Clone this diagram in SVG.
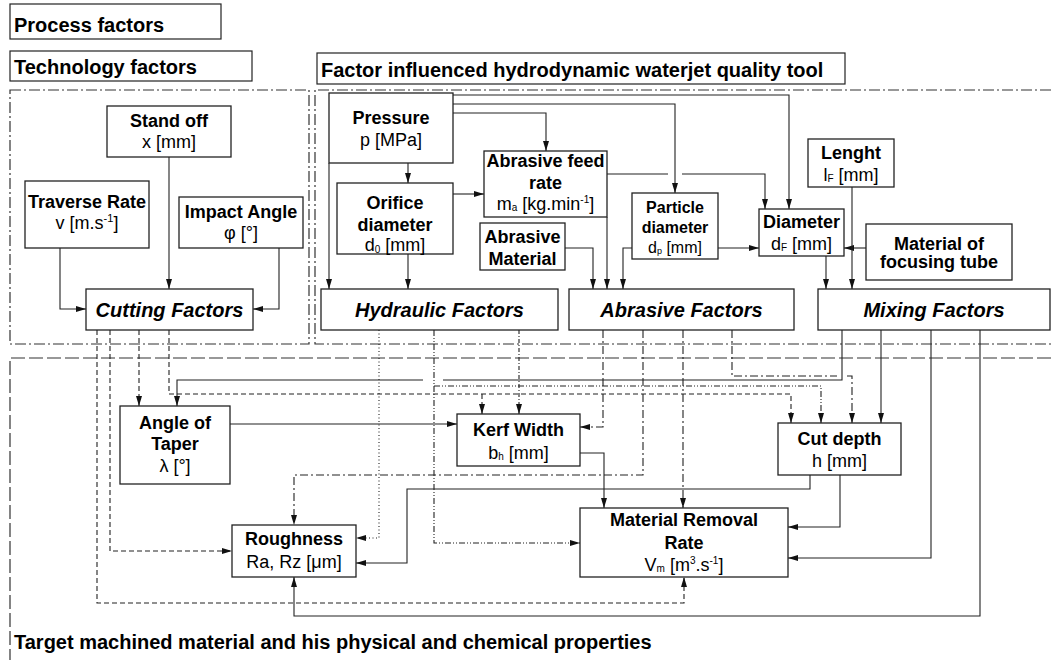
<svg xmlns="http://www.w3.org/2000/svg" width="1051" height="660" viewBox="0 0 1051 660">
<defs>
<style>
text{font-family:"Liberation Sans",Arial,Helvetica,sans-serif;fill:#000}
.t{font-size:18px;text-anchor:middle}
.s{font-size:16px;text-anchor:middle}
.bd{font-weight:bold}
.f{font-size:20px;font-weight:bold;font-style:italic;text-anchor:middle}
.ttl{font-size:20px;font-weight:bold}
.box{fill:#fff;stroke:#222;stroke-width:1.3}
.tbox{fill:#fff;stroke:#222;stroke-width:1.2}
.frame{fill:none;stroke:#333;stroke-width:1.2;stroke-dasharray:11,3,2,3}
.tgt{fill:none;stroke:#333;stroke-width:1.2;stroke-dasharray:14,4}
.c{fill:none;stroke:#222;stroke-width:1.1}
.da{stroke-dasharray:5,3}
.dot{stroke-dasharray:1,2.5}
.dd{stroke-dasharray:6,2,1,2,1,2}
.d2{stroke-dasharray:4,2,1,2}
.ad{stroke-dasharray:8,3,2,3}
</style>
<marker id="a" viewBox="0 0 10 6" refX="10" refY="3" markerWidth="10" markerHeight="6" markerUnits="userSpaceOnUse" orient="auto"><path d="M0,0 L10,3 L0,6 z" fill="#111" stroke="none"/></marker>
</defs>
<rect width="1051" height="660" fill="#fff"/>

<g id="frames">
<rect class="tbox" x="10" y="4" width="211" height="35"/>
<text class="ttl" x="14" y="31.5">Process factors</text>
<rect class="tbox" x="10" y="51" width="242" height="30"/>
<text class="ttl" x="14" y="73.5">Technology factors</text>
<rect class="tbox" x="317" y="53" width="528" height="31"/>
<text class="ttl" x="321" y="77">Factor influenced hydrodynamic waterjet quality tool</text>
<path class="frame" d="M10,90 H309 V344 H10 Z"/>
<path class="frame" d="M1051,90 H315 V344 H1051"/>
<path class="tgt" d="M1051,358 H10 V660"/>
<text class="ttl" x="14" y="649">Target machined material and his physical and chemical properties</text>
</g>

<g id="connectors">
<!-- technology -->
<path class="c" d="M169,157 V289" marker-end="url(#a)"/>
<path class="c" d="M60,248 V309 H86" marker-end="url(#a)"/>
<path class="c" d="M279,248 V309 H253" marker-end="url(#a)"/>
<!-- hydro -->
<path class="c" d="M453,95 H789 V209" marker-end="url(#a)"/>
<path class="c" d="M453,104 H675 V193" marker-end="url(#a)"/>
<path class="c" d="M453,113 H546 V151" marker-end="url(#a)"/>
<path class="c" d="M408,163 V183" marker-end="url(#a)"/>
<path class="c" d="M453,194 H484" marker-end="url(#a)"/>
<path class="c" d="M329,163 V289" marker-end="url(#a)"/>
<path class="c" d="M408,254 V289" marker-end="url(#a)"/>
<path class="c" d="M607,174 H668 M682,174 H765 V209" marker-end="url(#a)"/>
<path class="c" d="M607,217 V289" marker-end="url(#a)"/>
<path class="c" d="M565,248 H593 V289" marker-end="url(#a)"/>
<path class="c" d="M632,248 H623 V289" marker-end="url(#a)"/>
<path class="c" d="M718,248 H759" marker-end="url(#a)"/>
<path class="c" d="M866,248 H844" marker-end="url(#a)"/>
<path class="c" d="M826,256 V289" marker-end="url(#a)"/>
<path class="c" d="M852,187 V289" marker-end="url(#a)"/>
<!-- cutting factors (dashed) -->
<path class="c da" d="M97,330 V603 H684 V577" marker-end="url(#a)"/>
<path class="c da" d="M110,330 V551 H232" marker-end="url(#a)"/>
<path class="c da" d="M139,330 V406" marker-end="url(#a)"/>
<path class="c da" d="M169,330 V394 H791 V423" marker-end="url(#a)"/>
<path class="c da" d="M482,394 V414" marker-end="url(#a)"/>
<!-- hydraulic factors -->
<path class="c dot" d="M379,330 V538 H356" marker-end="url(#a)"/>
<path class="c dd" d="M434,330 V543 H580" marker-end="url(#a)"/>
<path class="c dd" d="M434,386 H821 V423" marker-end="url(#a)"/>
<path class="c d2" d="M519,330 V414" marker-end="url(#a)"/>
<!-- abrasive factors -->
<path class="c ad" d="M603,330 V427 H580" marker-end="url(#a)"/>
<path class="c ad" d="M643,330 V475 H294 V525" marker-end="url(#a)"/>
<path class="c ad" d="M683,330 V508" marker-end="url(#a)"/>
<path class="c ad" d="M732,330 V376 H837 M847,376 H852 V423" marker-end="url(#a)"/>
<!-- mixing factors -->
<path class="c" d="M842,330 V380 H443 M423,380 H177 V406" marker-end="url(#a)"/>
<path class="c" d="M881,330 V423" marker-end="url(#a)"/>
<path class="c" d="M931,330 V558 H788" marker-end="url(#a)"/>
<path class="c" d="M980,330 V616 H294 V577" marker-end="url(#a)"/>
<!-- outputs -->
<path class="c" d="M230,424 H457" marker-end="url(#a)"/>
<path class="c" d="M580,453 H604 V508" marker-end="url(#a)"/>
<path class="c" d="M810,475 V489 H407 V563 H356" marker-end="url(#a)"/>
<path class="c" d="M840,475 V527 H788" marker-end="url(#a)"/>
</g>

<g id="standoff"><rect class="box" x="107" y="106" width="124" height="51"/>
<text class="t bd" x="169" y="127">Stand off</text><text class="t" x="169" y="148">x [mm]</text></g>
<g id="traverse"><rect class="box" x="25" y="181" width="124" height="67"/>
<text class="t bd" x="87" y="208">Traverse Rate</text><text class="t" x="87" y="229">v [m.s<tspan font-size="11" dy="-7">-1</tspan><tspan dy="7">]</tspan></text></g>
<g id="impact"><rect class="box" x="179" y="197" width="124" height="51"/>
<text class="t bd" x="241" y="218">Impact Angle</text><text class="t" x="241" y="239">φ [°]</text></g>
<g id="cutting"><rect class="box" x="86" y="289" width="167" height="41"/>
<text class="f" x="169.5" y="317">Cutting Factors</text></g>

<g id="pressure"><rect class="box" x="329" y="93" width="124" height="70"/>
<text class="t bd" x="391" y="124">Pressure</text><text class="t" x="391" y="146">p [MPa]</text></g>
<g id="orifice"><rect class="box" x="337" y="183" width="116" height="71"/>
<text class="t bd" x="395" y="209">Orifice</text><text class="t bd" x="395" y="231">diameter</text>
<text class="t" x="395" y="251">d<tspan font-size="10" dy="2">0</tspan><tspan dy="-2"> [mm]</tspan></text></g>
<g id="afr"><rect class="box" x="484" y="151" width="123" height="66"/>
<text class="t bd" x="545.5" y="167">Abrasive feed</text><text class="t bd" x="545.5" y="189">rate</text>
<text class="t" x="545.5" y="210">m<tspan font-size="10" dy="1">a</tspan><tspan dy="-1"> [kg.min</tspan><tspan font-size="10" dy="-7">-1</tspan><tspan dy="7">]</tspan></text></g>
<g id="abrmat"><rect class="box" x="480" y="223" width="85" height="47"/>
<text class="t bd" x="522.5" y="243">Abrasive</text><text class="t bd" x="522.5" y="265">Material</text></g>
<g id="particle"><rect class="box" x="632" y="193" width="86" height="66"/>
<text class="s bd" x="675" y="213">Particle</text><text class="s bd" x="675" y="233">diameter</text>
<text class="s" x="675" y="253">d<tspan font-size="9" dy="1">p</tspan><tspan dy="-1"> [mm]</tspan></text></g>
<g id="diameter"><rect class="box" x="759" y="209" width="85" height="47"/>
<text class="t bd" x="801.5" y="228">Diameter</text>
<text class="t" x="801.5" y="250">d<tspan font-size="10" dy="1">F</tspan><tspan dy="-1"> [mm]</tspan></text></g>
<g id="lenght"><rect class="box" x="808" y="139" width="86" height="48"/>
<text class="t bd" x="851" y="159">Lenght</text>
<text class="t" x="851" y="181">l<tspan font-size="10" dy="1">F</tspan><tspan dy="-1"> [mm]</tspan></text></g>
<g id="mft"><rect class="box" x="866" y="224" width="146" height="56"/>
<text class="t bd" x="939" y="250">Material of</text><text class="t bd" x="939" y="268">focusing tube</text></g>

<g id="hydraulic"><rect class="box" x="321" y="289" width="237" height="41"/>
<text class="f" x="439.5" y="317">Hydraulic Factors</text></g>
<g id="abrasive"><rect class="box" x="569" y="289" width="225" height="41"/>
<text class="f" x="681.5" y="317">Abrasive Factors</text></g>
<g id="mixing"><rect class="box" x="818" y="289" width="232" height="41"/>
<text class="f" x="934" y="317">Mixing Factors</text></g>

<g id="angle"><rect class="box" x="120" y="406" width="110" height="78"/>
<text class="t bd" x="175" y="429">Angle of</text><text class="t bd" x="175" y="450">Taper</text><text class="t" x="175" y="472">λ [°]</text></g>
<g id="kerf"><rect class="box" x="457" y="414" width="123" height="52"/>
<text class="t bd" x="518.5" y="436">Kerf Width</text>
<text class="t" x="518.5" y="459">b<tspan font-size="10" dy="1">h</tspan><tspan dy="-1"> [mm]</tspan></text></g>
<g id="cutdepth"><rect class="box" x="778" y="423" width="123" height="52"/>
<text class="t bd" x="839.5" y="445">Cut depth</text><text class="t" x="839.5" y="467">h [mm]</text></g>
<g id="roughness"><rect class="box" x="232" y="525" width="124" height="52"/>
<text class="t bd" x="294" y="545">Roughness</text><text class="t" x="294" y="568">Ra, Rz [μm]</text></g>
<g id="mrr"><rect class="box" x="580" y="508" width="208" height="69"/>
<text class="t bd" x="684" y="526">Material Removal</text><text class="t bd" x="684" y="549">Rate</text>
<text class="t" x="684" y="571">V<tspan font-size="10" dy="1">m</tspan><tspan dy="-1"> [m</tspan><tspan font-size="10" dy="-7">3</tspan><tspan dy="7">.s</tspan><tspan font-size="10" dy="-7">-1</tspan><tspan dy="7">]</tspan></text></g>
</svg>
